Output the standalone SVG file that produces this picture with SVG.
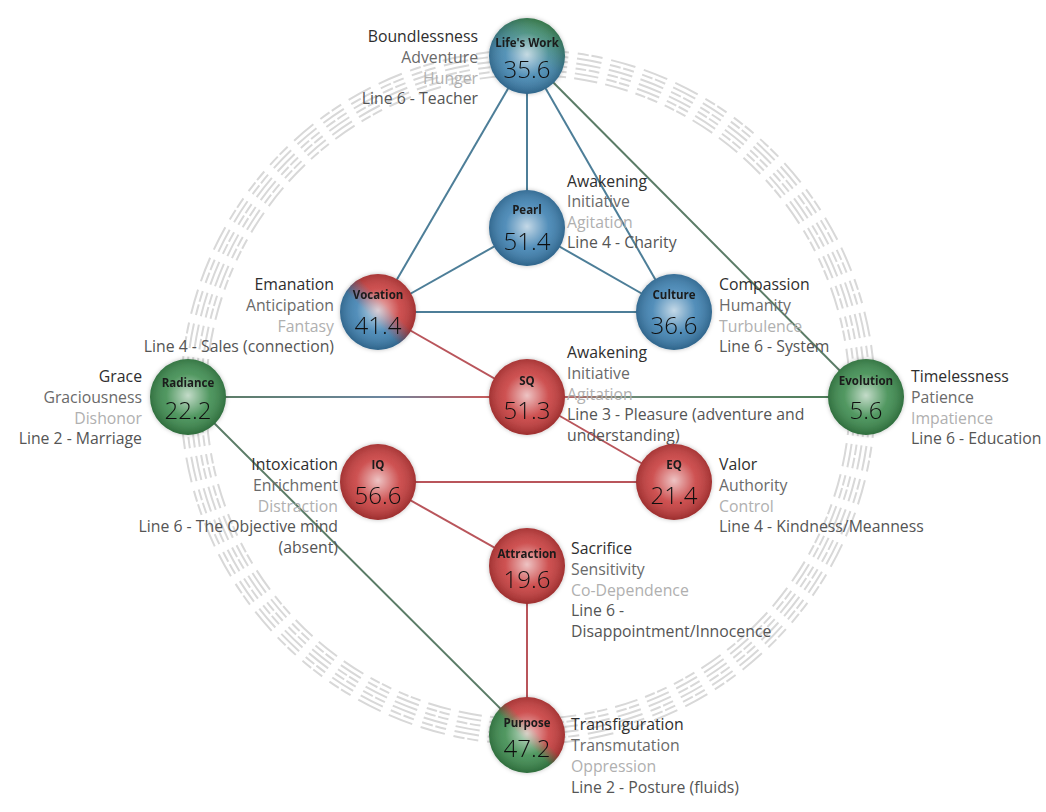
<svg xmlns="http://www.w3.org/2000/svg" width="1046" height="812" viewBox="0 0 1046 812">
<defs>
<radialGradient id="shade" cx="50%" cy="48%" r="52%">
<stop offset="0%" stop-color="#ffffff" stop-opacity="0.7"/>
<stop offset="55%" stop-color="#ffffff" stop-opacity="0.12"/>
<stop offset="100%" stop-color="#000000" stop-opacity="0.22"/>
</radialGradient>
<linearGradient id="gVoc" x1="0" y1="1" x2="1" y2="0">
<stop offset="0%" stop-color="#3b7fb0"/><stop offset="42%" stop-color="#3b7fb0"/>
<stop offset="60%" stop-color="#c73a3a"/><stop offset="100%" stop-color="#c73a3a"/>
</linearGradient>
<linearGradient id="gPur" x1="0" y1="1" x2="1" y2="0">
<stop offset="0%" stop-color="#3a8a4c"/><stop offset="45%" stop-color="#3a8a4c"/>
<stop offset="58%" stop-color="#c73a3a"/><stop offset="100%" stop-color="#c73a3a"/>
</linearGradient>
<linearGradient id="gLife" x1="0.3" y1="1" x2="0.7" y2="0">
<stop offset="0%" stop-color="#3b7fb0"/><stop offset="45%" stop-color="#3f85ad"/>
<stop offset="100%" stop-color="#3a8a4c"/>
</linearGradient>
<linearGradient id="gRadSQ" gradientUnits="userSpaceOnUse" x1="226" y1="0" x2="490" y2="0">
<stop offset="0%" stop-color="#5d7d68"/><stop offset="60%" stop-color="#6c86a0"/>
<stop offset="100%" stop-color="#c85a5a"/>
</linearGradient>
<linearGradient id="gSQEvo" gradientUnits="userSpaceOnUse" x1="560" y1="0" x2="830" y2="0">
<stop offset="0%" stop-color="#c06060"/><stop offset="25%" stop-color="#6c8a78"/>
<stop offset="100%" stop-color="#4f7d5a"/>
</linearGradient>
<filter id="glow" x="-30%" y="-30%" width="160%" height="160%">
<feDropShadow dx="0" dy="0" stdDeviation="2" flood-color="#000" flood-opacity="0.25"/>
</filter>
<style>
.ring{fill:none;stroke:#d8d8d8;stroke-width:2}
.c{fill:none;stroke-width:2}
.blue{stroke:#4d7e98}
.red{stroke:#b9555b}
.grn{stroke:#5b7c67}
.lbl{font-family:"Open Sans","Liberation Sans",sans-serif;font-size:15.8px}
.t1{fill:#2e2e2e}
.t2{fill:#6a6a6a}
.t3{fill:#b0b0b0}
.t4{fill:#555555}
.r{text-anchor:end}
.ttl{font-family:"Open Sans","Liberation Sans",sans-serif;font-size:11.5px;font-weight:bold;fill:#1a1a1a;text-anchor:middle}
.num{font-family:"Open Sans","Liberation Sans",sans-serif;font-size:24px;font-weight:300;fill:#111;text-anchor:middle}
</style>
</defs>
<rect width="1046" height="812" fill="#ffffff"/>
<g id="ring" transform="rotate(-93 528 397)">
<circle class="ring" cx="528" cy="397" r="322" pathLength="640" stroke-dasharray="7.4 2.6 3.3 0.8 3.3 2.6 7.4 2.6 7.4 2.6 3.3 0.8 3.3 2.6 3.3 0.8 3.3 2.6 7.4 2.6 7.4 2.6 7.4 2.6 3.3 0.8 3.3 2.6 7.4 2.6 3.3 0.8 3.3 2.6 3.3 0.8 3.3 2.6 7.4 2.6 3.3 0.8 3.3 2.6 7.4 2.6"/>
<circle class="ring" cx="528" cy="397" r="327" pathLength="640" stroke-dasharray="3.3 0.8 3.3 2.6 7.4 2.6 7.4 2.6 3.3 0.8 3.3 2.6 7.4 2.6 3.3 0.8 3.3 2.6 7.4 2.6 3.3 0.8 3.3 2.6 3.3 0.8 3.3 2.6 7.4 2.6 7.4 2.6 7.4 2.6 7.4 2.6 3.3 0.8 3.3 2.6 3.3 0.8 3.3 2.6 3.3 0.8 3.3 2.6"/>
<circle class="ring" cx="528" cy="397" r="332" pathLength="640" stroke-dasharray="7.4 2.6 7.4 2.6 3.3 0.8 3.3 2.6 3.3 0.8 3.3 2.6 7.4 2.6 7.4 2.6 3.3 0.8 3.3 2.6 7.4 2.6 3.3 0.8 3.3 2.6 3.3 0.8 3.3 2.6 7.4 2.6 3.3 0.8 3.3 2.6 7.4 2.6 7.4 2.6 3.3 0.8 3.3 2.6 7.4 2.6"/>
<circle class="ring" cx="528" cy="397" r="337" pathLength="640" stroke-dasharray="3.3 0.8 3.3 2.6 3.3 0.8 3.3 2.6 7.4 2.6 7.4 2.6 7.4 2.6 3.3 0.8 3.3 2.6 3.3 0.8 3.3 2.6 7.4 2.6 7.4 2.6 3.3 0.8 3.3 2.6 3.3 0.8 3.3 2.6 7.4 2.6 3.3 0.8 3.3 2.6 7.4 2.6 7.4 2.6 7.4 2.6"/>
<circle class="ring" cx="528" cy="397" r="342" pathLength="640" stroke-dasharray="7.4 2.6 3.3 0.8 3.3 2.6 7.4 2.6 3.3 0.8 3.3 2.6 3.3 0.8 3.3 2.6 7.4 2.6 7.4 2.6 3.3 0.8 3.3 2.6 7.4 2.6 7.4 2.6 7.4 2.6 3.3 0.8 3.3 2.6 3.3 0.8 3.3 2.6 3.3 0.8 3.3 2.6 7.4 2.6 3.3 0.8 3.3 2.6"/>
<circle class="ring" cx="528" cy="397" r="347" pathLength="640" stroke-dasharray="3.3 0.8 3.3 2.6 7.4 2.6 3.3 0.8 3.3 2.6 7.4 2.6 7.4 2.6 7.4 2.6 3.3 0.8 3.3 2.6 3.3 0.8 3.3 2.6 3.3 0.8 3.3 2.6 7.4 2.6 3.3 0.8 3.3 2.6 7.4 2.6 7.4 2.6 3.3 0.8 3.3 2.6 7.4 2.6 7.4 2.6"/>
</g>
<g id="connectors">
<line class="c blue" x1="527" y1="56" x2="378" y2="312"/>
<line class="c blue" x1="527" y1="56" x2="527" y2="228"/>
<line class="c blue" x1="527" y1="56" x2="674" y2="312"/>
<line class="c grn" x1="527" y1="56" x2="866" y2="397"/>
<line class="c blue" x1="527" y1="228" x2="378" y2="312"/>
<line class="c blue" x1="527" y1="228" x2="674" y2="312"/>
<line class="c blue" x1="378" y1="312" x2="674" y2="312"/>
<line class="c red" x1="378" y1="312" x2="527" y2="397"/>
<line class="c red" x1="527" y1="397" x2="674" y2="482"/>
<line class="c" stroke="url(#gRadSQ)" x1="188" y1="397" x2="527" y2="397"/>
<line class="c" stroke="url(#gSQEvo)" x1="527" y1="397" x2="866" y2="397"/>
<line class="c grn" x1="188" y1="397" x2="527" y2="735"/>
<line class="c red" x1="378" y1="482" x2="674" y2="482"/>
<line class="c red" x1="378" y1="482" x2="527" y2="566"/>
<line class="c red" x1="527" y1="566" x2="527" y2="735"/>
</g>
<g id="labels" class="lbl">
<text class="r" x="478"><tspan class="t1" x="478" y="42">Boundlessness</tspan><tspan class="t2" x="478" y="63">Adventure</tspan><tspan class="t3" x="478" y="84">Hunger</tspan><tspan class="t4" x="478" y="104">Line 6 - Teacher</tspan></text>
<text x="567"><tspan class="t1" x="567" y="187">Awakening</tspan><tspan class="t2" x="567" y="207">Initiative</tspan><tspan class="t3" x="567" y="228">Agitation</tspan><tspan class="t4" x="567" y="248">Line 4 - Charity</tspan></text>
<text class="r" x="334"><tspan class="t1" x="334" y="290">Emanation</tspan><tspan class="t2" x="334" y="311">Anticipation</tspan><tspan class="t3" x="334" y="332">Fantasy</tspan><tspan class="t4" x="334" y="352">Line 4 - Sales (connection)</tspan></text>
<text x="719"><tspan class="t1" x="719" y="290">Compassion</tspan><tspan class="t2" x="719" y="311">Humanity</tspan><tspan class="t3" x="719" y="332">Turbulence</tspan><tspan class="t4" x="719" y="352">Line 6 - System</tspan></text>
<text x="567"><tspan class="t1" x="567" y="358">Awakening</tspan><tspan class="t2" x="567" y="379">Initiative</tspan><tspan class="t3" x="567" y="400">Agitation</tspan><tspan class="t4" x="567" y="420">Line 3 - Pleasure (adventure and</tspan><tspan class="t4" x="567" y="441">understanding)</tspan></text>
<text class="r" x="142"><tspan class="t1" x="142" y="382">Grace</tspan><tspan class="t2" x="142" y="403">Graciousness</tspan><tspan class="t3" x="142" y="424">Dishonor</tspan><tspan class="t4" x="142" y="444">Line 2 - Marriage</tspan></text>
<text x="911"><tspan class="t1" x="911" y="382">Timelessness</tspan><tspan class="t2" x="911" y="403">Patience</tspan><tspan class="t3" x="911" y="424">Impatience</tspan><tspan class="t4" x="911" y="444">Line 6 - Education</tspan></text>
<text class="r" x="338"><tspan class="t1" x="338" y="470">Intoxication</tspan><tspan class="t2" x="338" y="491">Enrichment</tspan><tspan class="t3" x="338" y="512">Distraction</tspan><tspan class="t4" x="338" y="532">Line 6 - The Objective mind</tspan><tspan class="t4" x="338" y="553">(absent)</tspan></text>
<text x="719"><tspan class="t1" x="719" y="470">Valor</tspan><tspan class="t2" x="719" y="491">Authority</tspan><tspan class="t3" x="719" y="512">Control</tspan><tspan class="t4" x="719" y="532">Line 4 - Kindness/Meanness</tspan></text>
<text x="571"><tspan class="t1" x="571" y="554">Sacrifice</tspan><tspan class="t2" x="571" y="575">Sensitivity</tspan><tspan class="t3" x="571" y="596">Co-Dependence</tspan><tspan class="t4" x="571" y="616">Line 6 -</tspan><tspan class="t4" x="571" y="637">Disappointment/Innocence</tspan></text>
<text x="571"><tspan class="t1" x="571" y="730">Transfiguration</tspan><tspan class="t2" x="571" y="751">Transmutation</tspan><tspan class="t3" x="571" y="772">Oppression</tspan><tspan class="t4" x="571" y="793">Line 2 - Posture (fluids)</tspan></text>
</g>
<g id="node-lifeswork" filter="url(#glow)"><circle cx="527" cy="56" r="38" fill="url(#gLife)"/><circle cx="527" cy="56" r="38" fill="url(#shade)"/><text class="ttl" x="527" y="47">Life's Work</text><text class="num" x="527" y="78">35.6</text></g>
<g id="node-pearl" filter="url(#glow)"><circle cx="527" cy="228" r="38" fill="#3b7fb0"/><circle cx="527" cy="228" r="38" fill="url(#shade)"/><text class="ttl" x="527" y="214">Pearl</text><text class="num" x="527" y="250">51.4</text></g>
<g id="node-vocation" filter="url(#glow)"><circle cx="378" cy="312" r="38" fill="url(#gVoc)"/><circle cx="378" cy="312" r="38" fill="url(#shade)"/><text class="ttl" x="378" y="299">Vocation</text><text class="num" x="378" y="334">41.4</text></g>
<g id="node-culture" filter="url(#glow)"><circle cx="674" cy="312" r="38" fill="#3b7fb0"/><circle cx="674" cy="312" r="38" fill="url(#shade)"/><text class="ttl" x="674" y="299">Culture</text><text class="num" x="674" y="334">36.6</text></g>
<g id="node-radiance" filter="url(#glow)"><circle cx="188" cy="397" r="38" fill="#3a8a4c"/><circle cx="188" cy="397" r="38" fill="url(#shade)"/><text class="ttl" x="188" y="387">Radiance</text><text class="num" x="188" y="419">22.2</text></g>
<g id="node-sq" filter="url(#glow)"><circle cx="527" cy="397" r="38" fill="#c73a3a"/><circle cx="527" cy="397" r="38" fill="url(#shade)"/><text class="ttl" x="527" y="385">SQ</text><text class="num" x="527" y="419">51.3</text></g>
<g id="node-evolution" filter="url(#glow)"><circle cx="866" cy="397" r="38" fill="#3a8a4c"/><circle cx="866" cy="397" r="38" fill="url(#shade)"/><text class="ttl" x="866" y="385">Evolution</text><text class="num" x="866" y="419">5.6</text></g>
<g id="node-iq" filter="url(#glow)"><circle cx="378" cy="482" r="38" fill="#c73a3a"/><circle cx="378" cy="482" r="38" fill="url(#shade)"/><text class="ttl" x="378" y="469">IQ</text><text class="num" x="378" y="504">56.6</text></g>
<g id="node-eq" filter="url(#glow)"><circle cx="674" cy="482" r="38" fill="#c73a3a"/><circle cx="674" cy="482" r="38" fill="url(#shade)"/><text class="ttl" x="674" y="469">EQ</text><text class="num" x="674" y="504">21.4</text></g>
<g id="node-attraction" filter="url(#glow)"><circle cx="527" cy="566" r="38" fill="#c73a3a"/><circle cx="527" cy="566" r="38" fill="url(#shade)"/><text class="ttl" x="527" y="558">Attraction</text><text class="num" x="527" y="588">19.6</text></g>
<g id="node-purpose" filter="url(#glow)"><circle cx="527" cy="735" r="38" fill="url(#gPur)"/><circle cx="527" cy="735" r="38" fill="url(#shade)"/><text class="ttl" x="527" y="727">Purpose</text><text class="num" x="527" y="757">47.2</text></g>
</svg>
